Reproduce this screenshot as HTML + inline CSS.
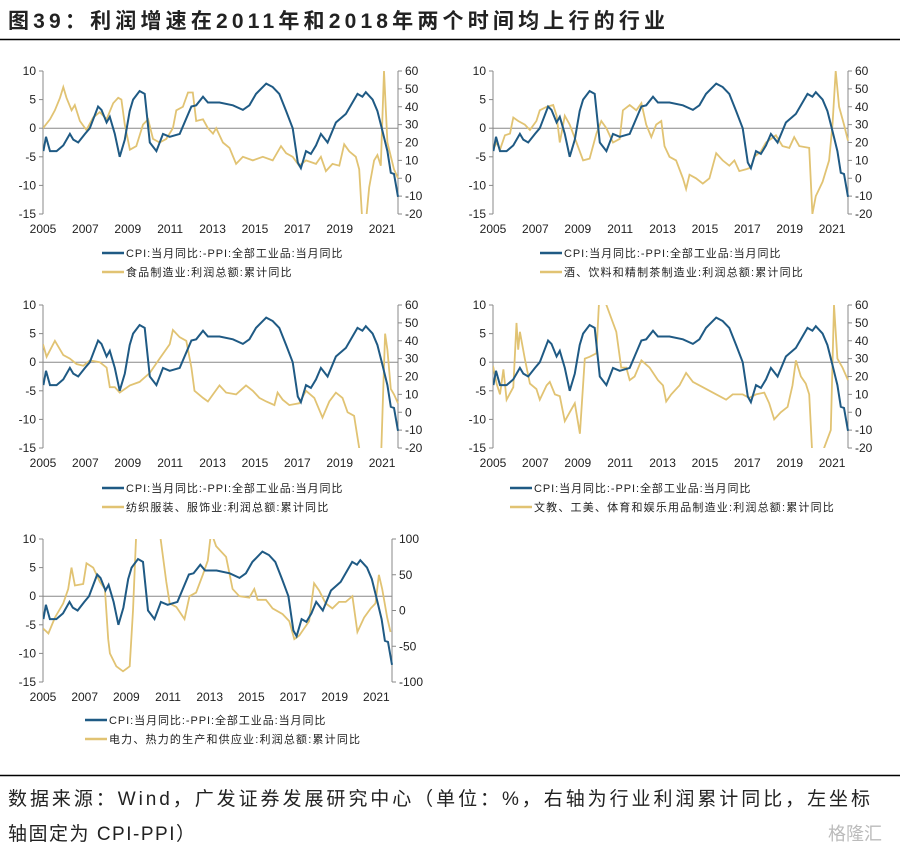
<!DOCTYPE html>
<html><head><meta charset="utf-8"><style>
body{margin:0;background:#fff;}
svg text{font-family:"Liberation Sans","Noto Sans CJK SC",sans-serif;}
</style></head><body>
<svg id="s" width="910" height="849" xmlns="http://www.w3.org/2000/svg">
<text x="8" y="28" font-size="21" font-weight="bold" fill="#222" textLength="657" lengthAdjust="spacing">图39：利润增速在2011年和2018年两个时间均上行的行业</text>
<line x1="0" y1="39.5" x2="900" y2="39.5" stroke="#000" stroke-width="1.5"/>
<line x1="0" y1="775.5" x2="900" y2="775.5" stroke="#000" stroke-width="1.5"/>
<text x="8" y="805" font-size="19" fill="#222" textLength="862" lengthAdjust="spacing">数据来源：Wind，广发证券发展研究中心（单位：%，右轴为行业利润累计同比，左坐标</text>
<text x="8" y="840" font-size="19" fill="#222" textLength="187" lengthAdjust="spacing">轴固定为 CPI-PPI）</text>
<text x="828" y="840" font-size="18" fill="#bbb">格隆汇</text>
</svg>
<script>
const cpiYears=[2005.02,2005.14,2005.33,2005.64,2005.96,2006.27,2006.43,2006.66,2006.98,2007.21,2007.6,2007.76,2008.0,2008.15,2008.39,2008.62,2008.86,2009.09,2009.25,2009.56,2009.8,2010.04,2010.35,2010.66,2010.98,2011.45,2012.0,2012.23,2012.55,2012.78,2013.33,2013.96,2014.43,2014.74,2015.05,2015.53,2015.84,2016.15,2016.47,2016.78,2017.02,2017.17,2017.41,2017.64,2017.88,2018.11,2018.43,2018.82,2019.29,2019.84,2020.07,2020.23,2020.55,2020.78,2021.02,2021.25,2021.41,2021.56,2021.75];
const cpiValues=[-4,-1.5,-4,-4,-3,-1,-2,-2.5,-1,0,3.8,3.2,1,2,-1,-5,-2,3,5,6.5,6,-2.5,-4,-1,-1.5,-1,3.8,4,5.5,4.5,4.5,4,3.2,4,6,7.8,7.2,6,3,0,-6,-7,-4,-4.5,-3,-1,-2.5,1,2.5,6,5.5,6.3,5,3,-0.5,-4,-7.8,-8,-12];

const foodYears=[2005.0,2005.33,2005.56,2005.8,2005.96,2006.11,2006.35,2006.5,2006.74,2007.05,2007.37,2007.68,2008.0,2008.31,2008.55,2008.7,2008.86,2009.1,2009.4,2009.72,2009.96,2010.19,2010.5,2010.82,2011.13,2011.29,2011.6,2011.84,2012.07,2012.23,2012.55,2012.78,2013.02,2013.17,2013.49,2013.8,2014.11,2014.43,2014.9,2015.37,2015.84,2016.23,2016.47,2016.78,2017.09,2017.41,2017.88,2018.11,2018.35,2018.66,2018.98,2019.21,2019.45,2019.76,2019.92,2020.07,2020.23,2020.39,2020.62,2020.78,2020.94,2021.09,2021.25,2021.56,2021.75];
const foodValues=[28,33,38,45,51,45,38,41,32,27,34,37,33,42,45,44,30,16,18,30,33,22,20,22,28,38,40,48,48,32,33,28,25,28,20,17,8,12,10,12,10,18,14,12,7,10,8,12,4,8,7,19,15,12,5,-25,-25,-5,10,13,7,60,20,5,0];

const drinkYears=[2005.0,2005.17,2005.33,2005.56,2005.8,2005.96,2006.19,2006.5,2006.74,2007.05,2007.21,2007.53,2007.84,2008.0,2008.15,2008.39,2008.62,2008.94,2009.25,2009.56,2009.88,2010.11,2010.35,2010.66,2010.98,2011.13,2011.45,2011.76,2012.0,2012.23,2012.47,2012.7,2012.94,2013.09,2013.33,2013.64,2013.96,2014.11,2014.27,2014.58,2014.9,2015.21,2015.53,2015.84,2016.15,2016.39,2016.62,2016.94,2017.17,2017.33,2017.64,2017.88,2018.35,2018.66,2018.98,2019.21,2019.45,2019.92,2020.07,2020.23,2020.55,2020.86,2021.02,2021.17,2021.33,2021.56,2021.75];
const drinkValues=[16,20,16,24,25,34,32,30,27,32,38,40,41,35,20,35,30,20,10,11,25,32,28,20,22,38,41,38,42,30,23,30,32,18,12,10,0,-6,2,0,-3,0,14,10,7,10,4,5,6,12,15,20,24,18,17,23,18,17,-20,-10,-2,10,30,60,40,30,21];

const textileYears=[2005.0,2005.17,2005.56,2005.96,2006.27,2006.58,2006.9,2007.21,2007.68,2008.0,2008.15,2008.39,2008.62,2009.1,2009.56,2010.04,2010.5,2010.98,2011.13,2011.45,2011.76,2012.0,2012.15,2012.55,2012.78,2013.02,2013.33,2013.64,2014.11,2014.58,2014.9,2015.21,2015.53,2015.92,2016.07,2016.31,2016.62,2017.09,2017.41,2017.8,2018.19,2018.51,2018.82,2019.13,2019.37,2019.68,2019.92,2020.07,2020.86,2021.02,2021.14,2021.25,2021.41,2021.56,2021.75];
const textileValues=[38,31,40,32,30,27,26,29,28,25,14,14,11,15,17,22,30,38,46,42,40,25,12,8,6,10,15,11,10,15,12,8,6,4,11,7,4,5,12,8,-3,6,11,8,0,-2,-20,-60,-60,0,44,35,13,10,5];

const toysYears=[2005.0,2005.17,2005.33,2005.49,2005.64,2005.96,2006.11,2006.19,2006.27,2006.5,2006.74,2007.05,2007.21,2007.53,2007.68,2007.92,2008.15,2008.39,2008.62,2008.86,2009.1,2009.33,2009.56,2009.88,2010.04,2010.35,2010.82,2011.05,2011.29,2011.45,2011.68,2012.0,2012.39,2012.78,2013.02,2013.17,2013.41,2013.8,2014.11,2014.43,2014.9,2015.37,2016.0,2016.31,2016.78,2017.09,2017.41,2017.8,2018.03,2018.27,2018.58,2018.9,2019.13,2019.29,2019.53,2019.76,2019.92,2020.07,2020.39,2020.62,2020.94,2021.09,2021.25,2021.49,2021.75];
const toysValues=[26,16,10,24,7,14,50,35,45,30,16,13,7,15,17,10,9,-5,0,5,-12,30,31,33,70,60,45,25,25,18,20,29,25,18,15,6,10,15,22,17,14,11,7,10,10,8,10,11,5,-4,0,3,15,29,20,16,10,-25,-25,-20,-10,60,30,25,18];

const powerYears=[2005.0,2005.26,2005.57,2005.97,2006.21,2006.37,2006.53,2006.93,2007.09,2007.41,2007.73,2007.97,2008.13,2008.21,2008.52,2008.84,2009.16,2009.32,2009.48,2010.6,2010.92,2011.08,2011.4,2011.79,2012.03,2012.35,2012.67,2012.91,2013.07,2013.31,2013.79,2014.1,2014.42,2014.9,2015.14,2015.3,2015.7,2016.02,2016.5,2016.82,2017.06,2017.3,2017.77,2018.01,2018.25,2018.57,2018.89,2019.21,2019.53,2019.85,2020.09,2020.41,2020.73,2020.96,2021.12,2021.28,2021.52,2021.68];
const powerValues=[-25,-32,-10,10,30,60,35,37,66,60,40,30,-40,-60,-78,-85,-78,0,110,110,40,10,5,-12,20,25,50,70,110,90,75,30,20,18,30,15,15,3,-5,-15,-40,-35,-15,38,28,10,3,12,12,20,-30,-10,3,10,50,30,-10,-30];

const leftTicks=[10,5,0,-5,-10,-15];
const rightTicksA=[60,50,40,30,20,10,0,-10,-20];
const rightTicksB=[100,50,0,-50,-100];
const yearTicks=[2005,2007,2009,2011,2013,2015,2017,2019,2021];

const cpiLabel='CPI:当月同比:-PPI:全部工业品:当月同比';
const NS='http://www.w3.org/2000/svg';
const svg=document.getElementById('s');
function mk(tag,attrs,parent){const e=document.createElementNS(NS,tag);for(const k in attrs)e.setAttribute(k,attrs[k]);(parent||svg).appendChild(e);return e;}
function widen(t){const l=t.getComputedTextLength();if(l>0){t.setAttribute('textLength',(l*1.11).toFixed(1));t.setAttribute('lengthAdjust','spacing');}}

function chart(id,L,R,T,B,rTicks,years,vals,label,legX,legY){
  const g=mk('g',{});
  
  
  const x=yr=>L+(yr-2005)*(R-L)/16.75;
  const yl=v=>T+(10-v)*(B-T)/25;
  const rMax=rTicks[0],rMin=rTicks[rTicks.length-1];
  const yr=v=>T+(rMax-v)*(B-T)/(rMax-rMin);
  const cp=mk('clipPath',{id:'c-'+id},g);mk('rect',{x:L,y:T,width:R-L+2,height:B-T},cp);
  const la=mk('line',{x1:L,y1:T,x2:L,y2:B,stroke:'#888'},g);
  
  
  const ra=mk('line',{x1:R,y1:T,x2:R,y2:B,stroke:'#888'},g);
  
  
  leftTicks.forEach(v=>{
    mk('line',{x1:L-4,y1:yl(v),x2:L,y2:yl(v),stroke:'#888'},g);
    const t=mk('text',{x:L-7,y:yl(v)+4,'font-size':12,'text-anchor':'end',fill:'#222'},g);t.textContent=v;
    
    
  });
  rTicks.forEach(v=>{
    mk('line',{x1:R,y1:yr(v),x2:R+4,y2:yr(v),stroke:'#888'},g);
    const t=mk('text',{x:R+7,y:yr(v)+4,'font-size':12,fill:'#222'},g);t.textContent=v;
    
    
  });
  yearTicks.forEach(v=>{
    const t=mk('text',{x:x(v),y:B+19,'font-size':12,'text-anchor':'middle',fill:'#222'},g);t.textContent=v;
    
    
  });
  const z=mk('line',{x1:L,y1:yl(0),x2:R,y2:yl(0),stroke:'#888'},g);
  
  
  const p2=mk('polyline',{points:years.map((yy,i)=>x(yy).toFixed(1)+','+yr(vals[i]).toFixed(1)).join(' '),fill:'none',stroke:'#e1c373','stroke-width':1.8,'clip-path':'url(#c-'+id+')'},g);
  
  
  const p1=mk('polyline',{points:cpiYears.map((yy,i)=>x(yy).toFixed(1)+','+yl(cpiValues[i]).toFixed(1)).join(' '),fill:'none',stroke:'#1f5a84','stroke-width':2,'clip-path':'url(#c-'+id+')'},g);
  
  
  mk('line',{x1:legX,y1:legY,x2:legX+22,y2:legY,stroke:'#1f5a84','stroke-width':2.5},g);
  const t1=mk('text',{x:legX+24,y:legY+4,'font-size':11,fill:'#222'},g);t1.textContent=cpiLabel;
  
  
  widen(t1);
  mk('line',{x1:legX,y1:legY+19,x2:legX+22,y2:legY+19,stroke:'#e1c373','stroke-width':2.5},g);
  const t2=mk('text',{x:legX+24,y:legY+23,'font-size':11,fill:'#222'},g);t2.textContent=label;
  
  
  widen(t2);
}
chart('chart-food',43,398,71,214,rightTicksA,foodYears,foodValues,'食品制造业:利润总额:累计同比',102,253);
chart('chart-beverage',493,848,71,214,rightTicksA,drinkYears,drinkValues,'酒、饮料和精制茶制造业:利润总额:累计同比',540,253);
chart('chart-textile',43,398,305,448,rightTicksA,textileYears,textileValues,'纺织服装、服饰业:利润总额:累计同比',102,488);
chart('chart-toys',493,848,305,448,rightTicksA,toysYears,toysValues,'文教、工美、体育和娱乐用品制造业:利润总额:累计同比',510,488);
chart('chart-power',43,392,539,682,rightTicksB,powerYears,powerValues,'电力、热力的生产和供应业:利润总额:累计同比',85,720);
</script>
</body></html>
